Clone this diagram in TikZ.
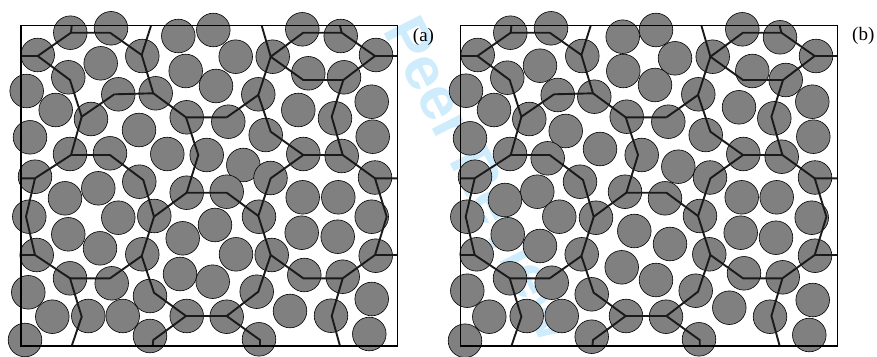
\documentclass[tikz,border=0pt]{standalone}
\usepackage{fontspec}
\setmainfont{Liberation Serif}
\newfontfamily\wmfont{Liberation Sans}
\definecolor{wmcol}{RGB}{206,236,252}
\definecolor{ballgray}{RGB}{128,128,128}
\definecolor{netcol}{RGB}{26,26,26}
\tikzset{
  ball/.style={fill=ballgray, draw=black, line width=0.6pt},
  net/.style={draw=netcol, line width=1.9pt, line join=miter},
  frame/.style={draw=black, line width=1.2pt},
  lab/.style={font=\fontsize{19}{20}\selectfont, inner sep=0pt},
  wm/.style={text=wmcol, font=\wmfont\bfseries\fontsize{60}{60}\selectfont, inner sep=0pt}
}
\newcommand\netdraw{%
\coordinate (A1) at (21,56);
\coordinate (A2) at (37.7,56);
\coordinate (A3) at (71,32.7);
\coordinate (A4) at (71.7,25.7);
\coordinate (A5) at (110,32.7);
\coordinate (A6) at (141.7,55);
\coordinate (A7) at (151,25.7);
\coordinate (A8) at (153.3,93.3);
\coordinate (A9) at (114.3,94.3);
\coordinate (A10) at (186,117.3);
\coordinate (A11) at (226.7,117.3);
\coordinate (A12) at (70,80);
\coordinate (A13) at (81.7,116.7);
\coordinate (A14) at (71,155);
\coordinate (A15) at (110,155);
\coordinate (A16) at (35,178.3);
\coordinate (A17) at (21,178.3);
\coordinate (A18) at (143.3,180);
\coordinate (A19) at (154,216.7);
\coordinate (A20) at (198.3,155);
\coordinate (A21) at (186.7,192.7);
\coordinate (A22) at (26,216.7);
\coordinate (A23) at (35,255);
\coordinate (A24) at (21,255);
\coordinate (A25) at (70,278.3);
\coordinate (A26) at (110,278.3);
\coordinate (A27) at (81.7,316.7);
\coordinate (A28) at (71.7,346);
\coordinate (A29) at (141.7,256);
\coordinate (A30) at (154,292.7);
\coordinate (A31) at (186,316);
\coordinate (A32) at (153.3,340);
\coordinate (A33) at (152.7,346);
\coordinate (A34) at (226.7,192.7);
\coordinate (A35) at (258.3,216);
\coordinate (A36) at (270.7,178.3);
\coordinate (A37) at (270.7,255);
\coordinate (A38) at (303.3,278.3);
\coordinate (A39) at (342.7,278.3);
\coordinate (A40) at (375,255);
\coordinate (A41) at (397.5,255);
\coordinate (A42) at (386.7,216.7);
\coordinate (A43) at (375,178.3);
\coordinate (A44) at (397.5,178.3);
\coordinate (A45) at (331.7,316);
\coordinate (A46) at (340,346);
\coordinate (A47) at (258.3,291.7);
\coordinate (A48) at (226.7,316);
\coordinate (A49) at (260,340);
\coordinate (A50) at (260,346);
\coordinate (B1) at (261.7,25.7);
\coordinate (B2) at (270.7,56.7);
\coordinate (B3) at (303.3,32.7);
\coordinate (B4) at (341.7,32.7);
\coordinate (B5) at (340,25.7);
\coordinate (B6) at (375,56);
\coordinate (B7) at (397.5,56);
\coordinate (B8) at (303.3,80);
\coordinate (B9) at (343.3,80);
\coordinate (B10) at (258.3,95);
\coordinate (B11) at (331.7,116.7);
\coordinate (B12) at (342.7,155);
\coordinate (B13) at (303.3,155);
\coordinate (B14) at (270.7,131.7);
\draw[net] (A1)--(A2)--(A3)--(A4);
\draw[net] (A3)--(A5)--(A6)--(A7);
\draw[net] (A6)--(A8)--(A10)--(A11);
\draw[net] (A8)--(A9);
\draw[net] (A2)--(A12)--(A13)--(A9);
\draw[net] (A13)--(A14)--(A16)--(A17);
\draw[net] (A14)--(A15)--(A18)--(A19);
\draw[net] (A10)--(A20)--(A21)--(A34)--(A35)--(A36)--(B13);
\draw[net] (A19)--(A21);
\draw[net] (A16)--(A22)--(A23)--(A24);
\draw[net] (A23)--(A25)--(A27)--(A28);
\draw[net] (A25)--(A26)--(A29)--(A19);
\draw[net] (A29)--(A30)--(A31)--(A32)--(A33);
\draw[net] (A35)--(A37)--(A38)--(A39)--(A40)--(A41);
\draw[net] (A40)--(A42)--(A43)--(A44);
\draw[net] (A43)--(B12);
\draw[net] (A39)--(A45)--(A46);
\draw[net] (A37)--(A47)--(A48)--(A31);
\draw[net] (A48)--(A49)--(A50);
\draw[net] (B1)--(B2)--(B3)--(B4)--(B5);
\draw[net] (B4)--(B6)--(B7);
\draw[net] (B2)--(B8)--(B9)--(B6);
\draw[net] (B9)--(B11)--(B12)--(B13)--(B14)--(B10)--(B2);
\draw[net] (B10)--(A11);
\draw[frame] (21,25.7) rectangle (397.5,346);
}
\begin{document}
\begin{tikzpicture}[x=1pt,y=-1pt]
\useasboundingbox (0,0) rectangle (877,356);
\begin{scope}
\clip (0,0) rectangle (877,356);
\node[wm, rotate=-63, anchor=base west] (wmark) at (382,30) {Peer Review};
\end{scope}
% panel (a) circles
\foreach \x/\y in {70.3/32.7, 111/28.3, 178.3/36, 213.3/30, 302.3/29.3, 340.7/36,
37.7/55, 142.3/56, 235.7/56.7, 272.7/56.7, 376/55,
100.7/63.3, 68.3/77.3, 185.7/71, 308.3/73.3, 344/77.3,
26.7/91, 118.3/94.3, 155.7/93.3, 216/86, 258.3/94.3, 371.7/101.7,
55.7/110, 91/119, 186.7/117.3, 228.3/121.7, 298.3/110, 335/118.3,
139/130, 30/137.3, 265.7/135, 372.7/136.7,
70/154, 110/153.3, 167.3/154, 206.7/155, 303.3/154, 341.7/156, 243.3/165,
35/176.7, 139.3/181.7, 98.3/188.3, 186.7/192.7, 270.5/178, 375/177.5, 226.7/191.7,
65/198.3, 302.7/197.3, 338.3/197.3,
29.3/216.7, 118.3/217.7, 154.3/216, 215/225, 259/216.7, 371.7/216.7,
182.7/238.3, 68.3/234.3, 100/248.3, 36.7/255, 142.3/254.3, 301.7/232.7, 337.7/236.7, 236/254.3, 271.7/255, 375.7/255.7,
180/274, 70/278.3, 111.7/283.3, 212.7/281.7, 304.3/275, 342.7/276.7,
28.3/292.3, 150/296, 256.7/291.7, 371.7/299,
52.3/316.7, 88.3/316, 122.7/316, 186.7/316, 290/311, 331/315.7, 226.7/316.7,
25/340, 150/336, 259/339.3, 369.3/334}
  \draw[ball] (\x,\y) circle[radius=16.8pt];
% panel (b) circles
\foreach \x/\y in {510.3/32.7, 551/28.3, 622.7/36.7, 656/30, 742.3/29.3, 780/37.3,
477.7/55, 582.3/56, 675/58.3, 712.7/56.7, 816/56,
540/65.7, 507.3/77.7, 623.3/71, 752.3/71, 785.7/80,
466/90.7, 557.7/95, 594.3/96.7, 655/85, 698.3/94.3, 812.3/101.7,
494/110, 529.3/119, 626.7/116.7, 668.3/121.7, 739/107.3, 774.3/118.3,
565.7/131, 470/138.3, 705.7/135, 813.3/136.7,
510/154, 547.7/158.3, 600/149, 641.7/155, 743.3/154, 781.7/156.7, 678.3/166.7,
475/176.7, 580/181.7, 537.3/191.7, 625/191.7, 710/177.5, 815/177.5, 665/198.3,
505/200, 741.7/197.3, 776.7/197.3,
467.3/216.7, 559.3/216.7, 596/217.7, 634.3/231, 700/216, 811.7/217.7,
507.7/234.3, 540/246, 476.7/254.3, 581.7/254.3, 621.7/267.3, 670/244, 740.7/232.7, 776/237.7, 709.3/254.3, 815/255.7,
510/278.3, 551.7/282.7, 656/280, 744/273.3, 782.7/277.3,
467.3/290.7, 591.7/294.3, 695.7/290.7, 812.7/300,
489.3/316.7, 526.7/316, 561.7/316, 626/316, 729.3/307.7, 770/316.7, 666/316.7,
465/340.7, 591.7/336.7, 699/339.3, 809.3/335}
  \draw[ball] (\x,\y) circle[radius=16.8pt];
\begin{scope}[name prefix=pa-]
\netdraw
\end{scope}
\begin{scope}[xshift=439.7pt, name prefix=pb-]
\netdraw
\end{scope}
\node[lab] (laba) at (423.5,36.5) {(a)};
\node[lab] (labb) at (863.3,36) {(b)};
\end{tikzpicture}
\end{document}
